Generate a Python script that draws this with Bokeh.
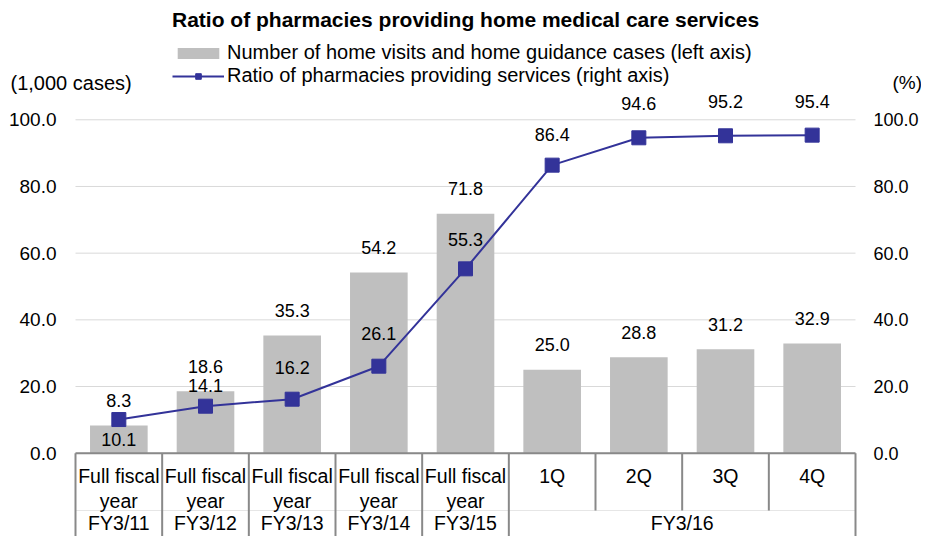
from bokeh.plotting import figure
from bokeh.models import (Range1d, LinearAxis, FixedTicker, ColumnDataSource,
                          Legend, LegendItem, Label, PrintfTickFormatter)
from bokeh.core.properties import value
from bokeh.embed import file_html
from bokeh.resources import INLINE

# ---- data ----
categories = ["FY3/11", "FY3/12", "FY3/13", "FY3/14", "FY3/15", "1Q", "2Q", "3Q", "4Q"]
groups = ["FY3/11", "FY3/12", "FY3/13", "FY3/14", "FY3/15", "FY3/16", "FY3/16", "FY3/16", "FY3/16"]
row1_labels = ["Full fiscal", "Full fiscal", "Full fiscal", "Full fiscal", "Full fiscal", "1Q", "2Q", "3Q", "4Q"]
row2_labels = ["year", "year", "year", "year", "year", "", "", "", ""]
cases = [8.3, 18.6, 35.3, 54.2, 71.8, 25.0, 28.8, 31.2, 32.9]       # 1,000 cases (left axis)
ratio = [10.1, 14.1, 16.2, 26.1, 55.3, 86.4, 94.6, 95.2, 95.4]      # % (right axis)
y_ticks = [0, 20, 40, 60, 80, 100]

# label placement (style): pixel offsets of ratio labels from markers
ratio_label_dy = [20, -21, -32, -33, -29, -31, -34, -34, -34]

FONT = "Liberation Sans"
n = len(categories)
X0, X1 = -0.8654, n + 0.7615          # frame covers the whole canvas
Y0, Y1 = -24.98, 135.78
ROW1_Y, ROW2_Y, SPLIT_Y, ROW3_Y = -6.69, -14.19, -17.19, -20.79

xc = [i + 0.5 for i in range(n)]      # category centres on the x scale
src = ColumnDataSource(dict(
    x=xc, cat=categories, cases=cases, ratio=ratio,
    cases_txt=["%.1f" % v for v in cases],
    ratio_txt=["%.1f" % v for v in ratio],
    ratio_dy=ratio_label_dy,
    row1=row1_labels, row2=row2_labels,
))

p = figure(width=921, height=536, x_range=Range1d(X0, X1), y_range=Range1d(Y0, Y1),
           output_backend="svg", toolbar_location=None, x_axis_location=None,
           min_border=0, min_border_left=0, min_border_right=0,
           min_border_top=0, min_border_bottom=0)
p.extra_y_ranges = {"pct": Range1d(Y0, Y1)}
p.outline_line_color = None
p.background_fill_color = "white"
p.grid.grid_line_color = None

# axes (fixed at the category table edges)
ticker = FixedTicker(ticks=y_ticks)
left = p.yaxis[0]
left.fixed_location = 0
right = LinearAxis(y_range_name="pct", fixed_location=n)
p.add_layout(right, "right")
for ax in (left, right):
    ax.ticker = ticker
    ax.formatter = PrintfTickFormatter(format="%.1f")
    ax.axis_line_color = None
    ax.major_tick_line_color = None
    ax.minor_tick_line_color = None
    ax.major_label_text_font = FONT
    ax.major_label_text_color = "#000000"
left.major_label_text_font_size = "19px"
right.major_label_text_font_size = "18px"
left.major_label_standoff = 13
right.major_label_standoff = 12

# horizontal gridlines across the category area
p.segment(x0=[0] * len(y_ticks), x1=[n] * len(y_ticks), y0=y_ticks, y1=y_ticks,
          line_color="#d9d9d9", line_width=1)

# bars
bars = p.vbar(x="x", top="cases", width=0.665, source=src,
              fill_color="#bfbfbf", line_color=None)
# legend swatch proxy for the bars (no data)
swatch = p.line(x=[], y=[], line_color="#bfbfbf", line_width=11)

# line + markers
ln = p.line(x="x", y="ratio", source=src, y_range_name="pct",
            line_color="#333399", line_width=2)
mk = p.scatter(x="x", y="ratio", source=src, y_range_name="pct", marker="square",
               size=14, fill_color="#333399", line_color="#333399")

# value labels
p.text(x="x", y="cases", text="cases_txt", source=src, y_offset=-25,
       text_align="center", text_baseline="middle", text_font=value(FONT),
       text_font_size="18px", text_color="#000000")
p.text(x="x", y="ratio", text="ratio_txt", source=src, y_range_name="pct",
       y_offset="ratio_dy", text_align="center", text_baseline="middle",
       text_font=value(FONT), text_font_size="18px", text_color="#000000")

# category table under the axis
bx = list(range(n + 1))
full = [i == 0 or i == n or groups[i] != groups[i - 1] for i in bx]
p.segment(x0=[0], x1=[n], y0=[SPLIT_Y], y1=[SPLIT_Y], line_color="#e6e6e6", line_width=1)
p.segment(x0=bx, x1=bx, y0=[0] * (n + 1), y1=[Y0 - 3 if f else SPLIT_Y for f in full],
          line_color="#898989", line_width=2)
p.segment(x0=[0], x1=[n], y0=[0], y1=[0], line_color="#898989", line_width=2)

p.text(x="x", y=ROW1_Y, text="row1", source=src, text_align="center",
       text_baseline="middle", text_font=value(FONT), text_font_size="19.5px",
       text_color="#000000")
p.text(x="x", y=ROW2_Y, text="row2", source=src, text_align="center",
       text_baseline="middle", text_font=value(FONT), text_font_size="19.5px",
       text_color="#000000")

gnames, gspan = [], []
for i, g in enumerate(groups):
    if not gnames or gnames[-1] != g:
        gnames.append(g)
        gspan.append([i, i + 1])
    else:
        gspan[-1][1] = i + 1
gsrc = ColumnDataSource(dict(x=[(a + b) / 2 for a, b in gspan], name=gnames))
p.text(x="x", y=ROW3_Y, text="name", source=gsrc, text_align="center",
       text_baseline="middle", text_font=value(FONT), text_font_size="19.5px",
       text_color="#000000")

# legend with chart title
legend = Legend(items=[
    LegendItem(label="Number of home visits and home guidance cases (left axis)", renderers=[bars, swatch]),
    LegendItem(label="Ratio of pharmacies providing services (right axis)", renderers=[ln, mk]),
], location=(172, 449), orientation="vertical",
    title="Ratio of pharmacies providing home medical care services",
    title_text_font=FONT, title_text_font_size="21px", title_text_font_style="bold",
    title_text_color="#000000", title_standoff=9,
    label_text_font=FONT, label_text_font_size="20px", label_text_color="#000000",
    glyph_width=52, glyph_height=14, label_standoff=3, spacing=0, padding=0, margin=0,
    border_line_color=None, background_fill_alpha=0)
p.add_layout(legend)

# axis unit labels
p.add_layout(Label(x=10, y=82, x_units="canvas", y_units="canvas", text="(1,000 cases)",
                   text_font=FONT, text_font_size="20px", text_baseline="middle",
                   text_color="#000000"))
p.add_layout(Label(x=892, y=82, x_units="canvas", y_units="canvas", text="(%)",
                   text_font=FONT, text_font_size="19px", text_baseline="middle",
                   text_color="#000000"))

open("out.html", "w").write(file_html(p, INLINE))
